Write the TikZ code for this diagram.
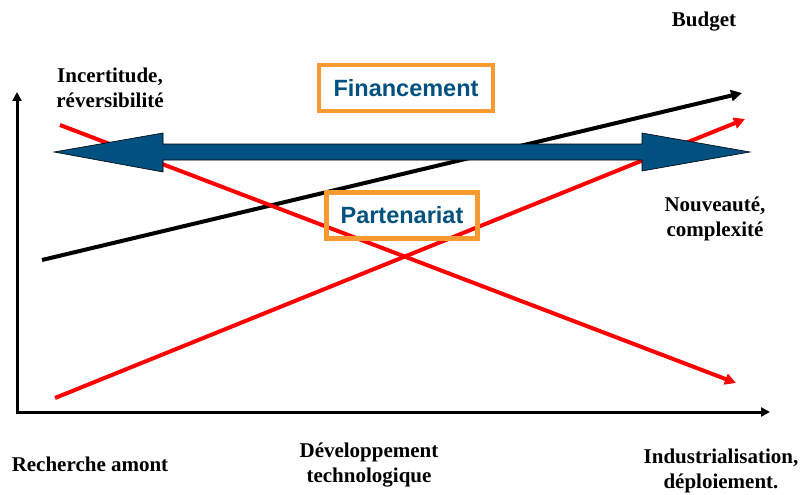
\documentclass[tikz,border=0pt]{standalone}
\usepackage{fontspec}
\setmainfont{Liberation Serif}
\newfontfamily\boxfont{Liberation Sans}
\usetikzlibrary{arrows.meta}
\definecolor{flowblue}{RGB}{0,80,128}
\definecolor{boxorange}{RGB}{247,154,50}

\begin{document}
\begin{tikzpicture}[
x=1pt, y=-1pt,
label/.style={
	font=\fontsize{21}{25}\selectfont\bfseries,
	align=center, inner sep=0pt, text=black
},
theme/.style={
	draw=boxorange, line width=4.5pt,
	font=\fontsize{23.5}{26}\selectfont\boxfont\bfseries,
	text=flowblue, inner sep=0pt,
	minimum height=46pt
},
axis/.style={line width=3pt, -{Triangle[length=9pt,width=9pt]}},
trend/.style={line width=4pt, -{Triangle[length=11pt,width=11pt]}}
]
\useasboundingbox (0,0) rectangle (804,495);
\coordinate (O) at (17,412);
\coordinate (Y) at (17,92);
\coordinate (X) at (770,412);
\draw[axis] (O) -- (Y);
\draw[axis] ([xshift=-1.5pt]O) -- (X);
\coordinate (b0) at (42,260);
\coordinate (b1) at (742,93);
\coordinate (u0) at (60,125);
\coordinate (u1) at (736,383);
\coordinate (n0) at (55,398);
\coordinate (n1) at (745,119);
\draw[trend, black] (b0) -- (b1);
\draw[trend, red] (u0) -- (u1);
\draw[trend, red] (n0) -- (n1);
\fill[flowblue, draw=black, line width=0.6pt]
	(54,152) -- (163,133) -- (163,144) -- (642,144) -- (642,133) -- (750,152)
	-- (642,171) -- (642,160) -- (163,160) -- (163,172) -- cycle;
\node[theme, minimum width=174pt] (fin) at (406,88) {Financement};
\node[theme, minimum width=151pt] (part) at (402,215.5) {Partenariat};
\node[label] (budget) at (704,22) {Budget};
\node[label] (incert) at (110,88) {Incertitude,\\r\'eversibilit\'e};
\node[label] (nouv) at (715,219) {Nouveaut\'e,\\complexit\'e};
\node[label] (rech) at (90,464) {Recherche amont};
\node[label] (dev) at (369,465) {D\'eveloppement\\technologique};
\node[label] (indus) at (721,471) {Industrialisation,\\d\'eploiement.};
\end{tikzpicture}
\end{document}
